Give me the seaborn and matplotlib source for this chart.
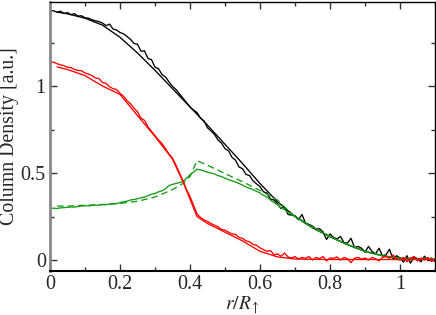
import numpy as np
import pandas as pd
import matplotlib
matplotlib.use("Agg")
import matplotlib.pyplot as plt
from matplotlib.ticker import MultipleLocator
import seaborn as sns

# sampled radii for the noisy profiles (step 0.01)
r_noisy = np.round(np.arange(0, 1.1001, 0.01), 2)

total_noisy = [
    1.430, 1.433, 1.424, 1.430, 1.417, 1.422, 1.410, 1.416, 1.402, 1.404,
    1.392, 1.390, 1.381, 1.375, 1.370, 1.362, 1.347, 1.356, 1.328, 1.322,
    1.308, 1.300, 1.285, 1.268, 1.245, 1.240, 1.200, 1.202, 1.158, 1.152,
    1.108, 1.100, 1.066, 1.052, 1.024, 0.998, 0.980, 0.955, 0.930, 0.905,
    0.880, 0.862, 0.848, 0.815, 0.800, 0.760, 0.742, 0.722, 0.690, 0.672,
    0.640, 0.628, 0.590, 0.574, 0.535, 0.525, 0.492, 0.486, 0.455, 0.438,
    0.422, 0.392, 0.385, 0.350, 0.345, 0.322, 0.296, 0.305, 0.262, 0.258,
    0.255, 0.232, 0.262, 0.212, 0.205, 0.195, 0.178, 0.180, 0.162, 0.118,
    0.150, 0.130, 0.122, 0.135, 0.100, 0.098, 0.125, 0.072, 0.078, 0.068,
    0.045, 0.078, 0.050, 0.035, 0.068, 0.025, 0.030, 0.062, 0.002, 0.025,
    0.012, -0.012, 0.025, -0.018, 0.018, 0.008, -0.010, 0.022, -0.004, 0.012,
    -0.008,
]

core_noisy = [
    1.135, 1.138, 1.128, 1.122, 1.117, 1.108, 1.106, 1.095, 1.090, 1.088,
    1.075, 1.068, 1.060, 1.046, 1.043, 1.020, 1.016, 0.996, 0.985, 0.980,
    0.958, 0.942, 0.916, 0.898, 0.872, 0.852, 0.815, 0.803, 0.765, 0.740,
    0.715, 0.690, 0.670, 0.640, 0.610, 0.585, 0.545, 0.500, 0.455, 0.405,
    0.365, 0.315, 0.265, 0.245, 0.230, 0.222, 0.210, 0.200, 0.192, 0.175,
    0.172, 0.160, 0.150, 0.148, 0.130, 0.125, 0.110, 0.105, 0.090, 0.085,
    0.070, 0.060, 0.050, 0.055, 0.030, 0.035, 0.022, 0.040, 0.018, 0.012,
    0.020, 0.005, 0.015, 0.010, 0.020, 0.000, 0.015, 0.008, 0.020, -0.005,
    0.012, 0.010, 0.018, 0.000, 0.015, 0.008, -0.015, 0.010, 0.015, 0.005,
    0.012, 0.000, 0.015, 0.008, -0.005, 0.015, 0.020, 0.010, 0.030, 0.005,
    0.000, 0.015, -0.010, 0.010, 0.020, -0.005, 0.012, 0.000, 0.015, -0.008,
    0.005,
]

envelope_noisy = [
    0.297, 0.298, 0.296, 0.300, 0.301, 0.303, 0.305, 0.304, 0.308, 0.310,
    0.312, 0.311, 0.314, 0.316, 0.315, 0.320, 0.318, 0.322, 0.325, 0.324,
    0.330, 0.335, 0.338, 0.345, 0.348, 0.352, 0.358, 0.362, 0.370, 0.378,
    0.382, 0.392, 0.398, 0.410, 0.428, 0.435, 0.440, 0.445, 0.452, 0.470,
    0.490, 0.505, 0.522, 0.518, 0.512, 0.505, 0.500, 0.495, 0.485, 0.480,
    0.470, 0.462, 0.455, 0.448, 0.440, 0.430, 0.420, 0.412, 0.405, 0.395,
    0.385, 0.372, 0.362, 0.345, 0.330, 0.318, 0.300, 0.290, 0.275, 0.262,
    0.250, 0.240, 0.228, 0.215, 0.200, 0.190, 0.178, 0.170, 0.155, 0.148,
    0.135, 0.128, 0.118, 0.108, 0.100, 0.090, 0.080, 0.075, 0.065, 0.058,
    0.050, 0.045, 0.038, 0.035, 0.028, 0.025, 0.020, 0.018, 0.012, 0.015,
    0.008, 0.010, 0.005, 0.012, 0.004, 0.008, 0.002, 0.010, 0.005, 0.008,
    0.004,
]

# smooth model curves
r_total_fit = [0.02, 0.05, 0.10, 0.15, 0.20, 0.25, 0.30, 0.35, 0.40, 0.45,
               0.50, 0.55, 0.60, 0.65, 0.70, 0.75, 0.80, 0.85, 0.90, 0.95,
               1.00, 1.05, 1.10]
total_fit = [1.425, 1.415, 1.39, 1.35, 1.28, 1.19, 1.09, 0.985, 0.88, 0.775,
             0.665, 0.555, 0.44, 0.335, 0.25, 0.185, 0.134, 0.088, 0.05, 0.025,
             0.01, 0.005, 0.003]

r_core_fit = [0.02, 0.05, 0.10, 0.15, 0.20, 0.25, 0.30, 0.35, 0.38, 0.40,
              0.42, 0.45, 0.50, 0.55, 0.60, 0.65, 0.70, 0.75, 0.80, 0.90,
              1.00, 1.10]
core_fit = [1.11, 1.095, 1.06, 1.0, 0.952, 0.83, 0.71, 0.58, 0.45, 0.35,
            0.25, 0.21, 0.16, 0.11, 0.05, 0.018, 0.006, 0.004, 0.003, 0.003,
            0.003, 0.003]

r_env_fit = [0.02, 0.05, 0.10, 0.15, 0.20, 0.25, 0.30, 0.35, 0.38, 0.40,
             0.42, 0.45, 0.50, 0.55, 0.60, 0.65, 0.67, 0.70, 0.75, 0.80,
             0.85, 0.90, 0.95, 1.00, 1.05, 1.10]
env_fit = [0.31, 0.31, 0.315, 0.318, 0.325, 0.338, 0.362, 0.405, 0.44, 0.48,
           0.571, 0.545, 0.497, 0.45, 0.40, 0.345, 0.305, 0.25, 0.185, 0.134,
           0.088, 0.05, 0.025, 0.01, 0.005, 0.003]

GREEN = "#169b16"

sns.set_style("ticks")
plt.rcParams["font.family"] = ["Liberation Serif", "DejaVu Serif"]
plt.rcParams["mathtext.fontset"] = "stix"

fig = plt.figure(figsize=(4.36, 3.15), dpi=100)
ax = fig.add_axes([50 / 436, 1 - 271 / 315, 385 / 436, 269 / 315])

noisy = pd.DataFrame({"r": r_noisy, "total": total_noisy,
                      "core": core_noisy, "env": envelope_noisy})
lw = 0.95
sns.lineplot(data=noisy, x="r", y="total", color="black", lw=lw,
             estimator=None, ax=ax)
sns.lineplot(x=r_total_fit, y=total_fit, color="black", lw=lw,
             estimator=None, ax=ax)
sns.lineplot(data=noisy, x="r", y="env", color=GREEN, lw=lw,
             estimator=None, ax=ax)
sns.lineplot(x=r_env_fit, y=env_fit, color=GREEN, lw=lw, ls=(0, (5, 3)),
             estimator=None, ax=ax)
sns.lineplot(data=noisy, x="r", y="core", color="red", lw=lw,
             estimator=None, ax=ax)
sns.lineplot(x=r_core_fit, y=core_fit, color="red", lw=lw,
             estimator=None, ax=ax)

ax.set_xlim(0, 1.1)
ax.set_ylim(-0.063, 1.483)
ax.xaxis.set_minor_locator(MultipleLocator(0.1))
ax.yaxis.set_minor_locator(MultipleLocator(0.25))
ax.set_xticks([0, 0.2, 0.4, 0.6, 0.8, 1.0])
ax.set_xticklabels(["0", "0.2", "0.4", "0.6", "0.8", "1"])
ax.set_yticks([0, 0.5, 1.0])
ax.set_yticklabels(["0", "0.5", "1"])
ax.tick_params(which="both", direction="in", top=True, right=True,
               labelsize=14.5, color="#333333")
ax.tick_params(which="major", length=5, width=1, pad=3)
ax.tick_params(which="minor", length=3, width=1)

for side in ["top", "right"]:
    ax.spines[side].set_linewidth(1.0)
    ax.spines[side].set_color("black")
ax.spines["bottom"].set_linewidth(1.5)
ax.spines["bottom"].set_color("black")
ax.spines["left"].set_linewidth(2.0)
ax.spines["left"].set_color("#888888")

ax.set_xlabel(r"$r/R_{\uparrow}$", fontsize=14, labelpad=0)
ax.set_ylabel("Column Density [a.u.]", fontsize=14.3)
ax.yaxis.set_label_coords(-0.08, 0.5)

fig.savefig("out.png", dpi=100)
